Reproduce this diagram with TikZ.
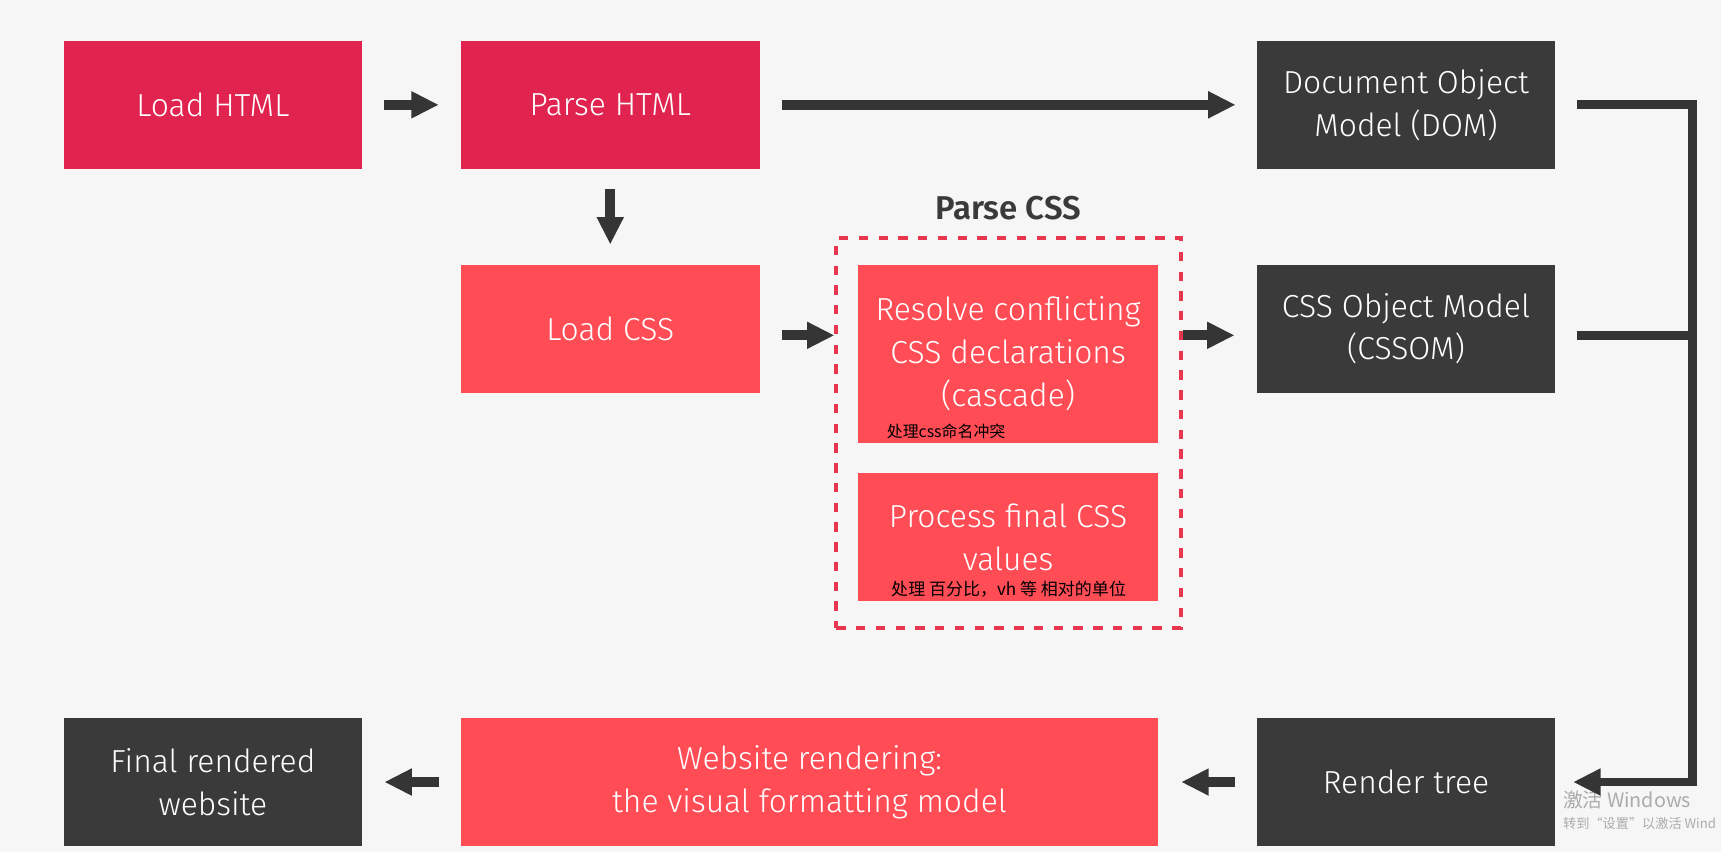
\documentclass[tikz,border=0pt]{standalone}
\usepackage{fontspec}
\setmainfont{Fira Sans Light}[BoldFont={Fira Sans SemiBold}]
\newfontfamily\cjk{Noto Sans CJK SC}
\usetikzlibrary{arrows.meta,positioning}
\definecolor{bg}{HTML}{F6F6F6}
\definecolor{crimson}{HTML}{E0244F}
\definecolor{boxred}{HTML}{FF4C55}
\definecolor{boxdark}{HTML}{3A3A3A}
\definecolor{arrowdark}{HTML}{353535}
\definecolor{dashred}{HTML}{E8364F}
\definecolor{wmgray}{HTML}{ABABAB}
\begin{document}
\begin{tikzpicture}[x=1pt,y=-1pt,
    box/.style={minimum width=272pt,minimum height=117pt,inner sep=0pt,align=center,
      text=white,font=\fontsize{29}{39}\selectfont},
    crimsonbox/.style={box,fill=crimson},
    redbox/.style={box,fill=boxred},
    darkbox/.style={box,fill=boxdark},
    arr/.style={draw=arrowdark,line width=9pt,-{Triangle[length=25pt,width=23pt]}},
    bus/.style={draw=arrowdark,line width=8pt,line join=miter},
    note/.style={font=\cjk\fontsize{14.5}{16}\selectfont,text=black,inner sep=0pt,anchor=west},
    watermark/.style={font=\cjk,text=wmgray,inner sep=0pt,anchor=west}]
  \fill[bg] (0,0) rectangle (1568,776);
  \useasboundingbox (0,0) rectangle (1568,776);

  % top row
  \node[crimsonbox] (loadhtml) at (194,95.5) {Load HTML};
  \node[crimsonbox] (parsehtml) at (556,95.5) {Parse HTML};
  \node[darkbox] (dom) at (1281,95.5) {Document Object\\Model (DOM)};

  % css row
  \node[redbox] (loadcss) at (556,299.5) {Load CSS};
  \node[draw=dashred,line width=3.5pt,dash pattern=on 8.5pt off 9.5pt,
    minimum width=314pt,minimum height=355pt] (group) at (919,394.5) {};
  \node[font=\bfseries\fontsize{30}{32}\selectfont,text=boxdark] (grouptitle) at (918.5,190) {Parse CSS};
  \node[redbox,minimum width=273pt,minimum height=163pt] (resolve) at (918.5,322.5)
    {Resolve conflicting\\CSS declarations\\(cascade)};
  \node[note] (resolvenote) at ([xshift=26pt,yshift=11pt]resolve.south west) {处理css命名冲突};
  \node[redbox,minimum width=273pt] (process) at (918.5,489.5) {Process final CSS\\values};
  \node[note,font=\cjk\fontsize{15.5}{17}\selectfont] (processnote) at ([xshift=30pt,yshift=11pt]process.south west)
    {处理 百分比，vh 等 相对的单位};
  \node[darkbox] (cssom) at (1281,299.5) {CSS Object Model\\(CSSOM)};

  % bottom row
  \node[darkbox] (final) at (194,712.5) {Final rendered\\website};
  \node[redbox,minimum width=635pt] (website) at (737.5,712.5) {Website rendering:\\the visual formatting model};
  \node[darkbox] (render) at (1281,712.5) {Render tree};

  \node[watermark,font=\cjk\fontsize{18}{20}\selectfont] (mark1) at (1424,729) {激活 Windows};
  \node[watermark,font=\cjk\fontsize{12}{14}\selectfont] (mark2) at (1424,750) {转到“设置”以激活 Wind};

  % connectors
  \coordinate (cssrow) at ([yshift=-6pt]loadcss.east);
  \coordinate (busx) at (1542,95.5);
  \draw[arr,shorten <=20pt,shorten >=20pt] (loadhtml) -- (parsehtml);
  \draw[arr,shorten <=20pt,shorten >=19pt] (parsehtml) -- (dom);
  \draw[arr,shorten <=18pt,shorten >=18pt] (parsehtml) -- (loadcss);
  \draw[arr,shorten <=20pt] (cssrow) -- (cssrow -| group.west);
  \draw[arr,shorten >=20pt] (cssrow -| group.east) -- (cssrow -| cssom.west);
  \draw[bus,-{Triangle[length=25pt,width=23pt]},shorten <=20pt,shorten >=16pt]
    (dom.east) -- (busx) |- (render.east);
  \draw[bus,shorten <=20pt] (cssrow -| cssom.east) -- (cssrow -| busx);
  \draw[arr,shorten <=20pt,shorten >=21pt] (render) -- (website);
  \draw[arr,shorten <=20pt,shorten >=20pt] (website) -- (final);
\end{tikzpicture}
\end{document}
